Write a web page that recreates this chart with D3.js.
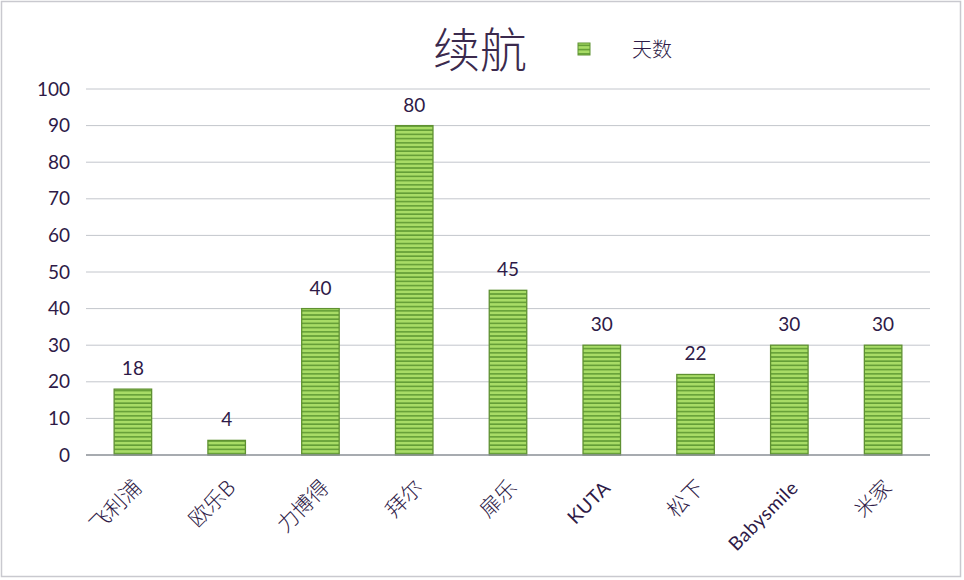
<!DOCTYPE html>
<html>
<head>
<meta charset="utf-8">
<script src="https://cdn.jsdelivr.net/npm/d3@7"></script>
<style>
  body { margin: 0; background: #fff; }
</style>
</head>
<body>
<script>
// -------------------- DATA --------------------
var brands = ["飞利浦", "欧乐B", "力博得", "拜尔", "扉乐", "KUTA", "松下", "Babysmile", "米家"];
var days = [18, 4, 40, 90, 45, 30, 22, 30, 30];          // bar heights as drawn
var dayLabels = ["18", "4", "40", "80", "45", "30", "22", "30", "30"]; // labels as printed
var yTicks = [0, 10, 20, 30, 40, 50, 60, 70, 80, 90, 100];
var title = "续航";
var seriesName = "天数";

// -------------------- DIMENSIONS --------------------
var w = 964, h = 580;
var margin = { top: 89, right: 34, bottom: 125, left: 86 };
var innerW = w - margin.left - margin.right;
var innerH = h - margin.top - margin.bottom;

var textColor = "#2e1a47";
var numFont = "Lato, 'Open Sans', sans-serif";
var cjkFont = "'Noto Sans CJK SC', sans-serif";

var svg = d3.select("body").append("svg")
  .attr("width", w)
  .attr("height", h);

// stripe pattern for bars
var defs = svg.append("defs");
var pat = defs.append("pattern")
  .attr("id", "stripes")
  .attr("patternUnits", "userSpaceOnUse")
  .attr("width", 8)
  .attr("height", 4.2);
pat.append("rect").attr("width", 8).attr("height", 4.2).attr("fill", "#a8dc66");
pat.append("rect").attr("y", 2.7).attr("width", 8).attr("height", 1.4).attr("fill", "#5a9530");

// outer frame
svg.append("rect")
  .attr("x", 1.5).attr("y", 1.5)
  .attr("width", w - 5).attr("height", h - 5)
  .attr("fill", "#fff")
  .attr("stroke", "#c9c9cf")
  .attr("stroke-width", 1.5);

var g = svg.append("g")
  .attr("transform", "translate(" + margin.left + "," + margin.top + ")");

// -------------------- SCALES --------------------
var x = d3.scaleBand()
  .domain(brands)
  .range([0, innerW])
  .paddingInner(0.6)
  .paddingOuter(0.3);

var y = d3.scaleLinear()
  .domain([0, 100])
  .range([innerH, 0]);

// gridlines
g.selectAll("line.grid")
  .data(yTicks.filter(function(d){ return d > 0; }))
  .enter()
  .append("line")
  .attr("class", "grid")
  .attr("x1", 0).attr("x2", innerW)
  .attr("y1", function(d){ return y(d); })
  .attr("y2", function(d){ return y(d); })
  .attr("stroke", "#c3c6cc")
  .attr("stroke-width", 1);

// y axis labels
var yAxis = d3.axisLeft(y).tickValues(yTicks).tickSize(0).tickPadding(16);
var ya = g.append("g").call(yAxis);
ya.select(".domain").remove();
ya.selectAll("text")
  .attr("font-family", numFont)
  .attr("font-size", "19px")
  .attr("fill", textColor);

// bars
g.selectAll("rect.bar")
  .data(days)
  .enter()
  .append("rect")
  .attr("class", "bar")
  .attr("x", function(d, i){ return x(brands[i]); })
  .attr("y", function(d){ return y(d); })
  .attr("width", x.bandwidth())
  .attr("height", function(d){ return innerH - y(d); })
  .attr("fill", "url(#stripes)")
  .attr("stroke", "#5f9132")
  .attr("stroke-width", 1.3);

// baseline
g.append("line")
  .attr("x1", 0).attr("x2", innerW)
  .attr("y1", y(0)).attr("y2", y(0))
  .attr("stroke", "#8a8f96")
  .attr("stroke-width", 1.5);

// value labels
g.selectAll("text.val")
  .data(days)
  .enter()
  .append("text")
  .attr("class", "val")
  .attr("x", function(d, i){ return x(brands[i]) + x.bandwidth() / 2; })
  .attr("y", function(d){ return y(d) - 14; })
  .attr("text-anchor", "middle")
  .attr("font-family", numFont)
  .attr("font-size", "19px")
  .attr("fill", textColor)
  .text(function(d, i){ return dayLabels[i]; });

// category labels, rotated
g.selectAll("text.cat")
  .data(brands)
  .enter()
  .append("text")
  .attr("class", "cat")
  .attr("transform", function(d){
    var cx = x(d) + x.bandwidth() / 2 + 10;
    return "translate(" + cx + "," + (innerH + 34) + ") rotate(-45)";
  })
  .attr("text-anchor", "end")
  .attr("font-family", function(d){ return /^[A-Za-z]/.test(d) ? numFont : cjkFont; })
  .attr("font-size", function(d){ return /^[A-Za-z]/.test(d) ? "19px" : "21px"; })
  .attr("font-weight", function(d){ return /^[A-Za-z]/.test(d) ? 400 : 300; })
  .attr("letter-spacing", function(d){ return /^[A-Za-z]/.test(d) ? "0.5px" : "0px"; })
  .attr("fill", textColor)
  .text(function(d){ return d; });

// title
svg.append("text")
  .attr("x", 480)
  .attr("y", 67)
  .attr("text-anchor", "middle")
  .attr("font-family", cjkFont)
  .attr("font-size", "47px")
  .attr("font-weight", 300)
  .attr("fill", "#3b2a4d")
  .text(title);

// legend
svg.append("rect")
  .attr("x", 578).attr("y", 43)
  .attr("width", 12).attr("height", 12)
  .attr("fill", "url(#stripes)")
  .attr("stroke", "#5f9132");
svg.append("text")
  .attr("x", 632)
  .attr("y", 57)
  .attr("font-family", cjkFont)
  .attr("font-size", "20px")
  .attr("font-weight", 300)
  .attr("fill", textColor)
  .text(seriesName);
</script>
</body>
</html>
